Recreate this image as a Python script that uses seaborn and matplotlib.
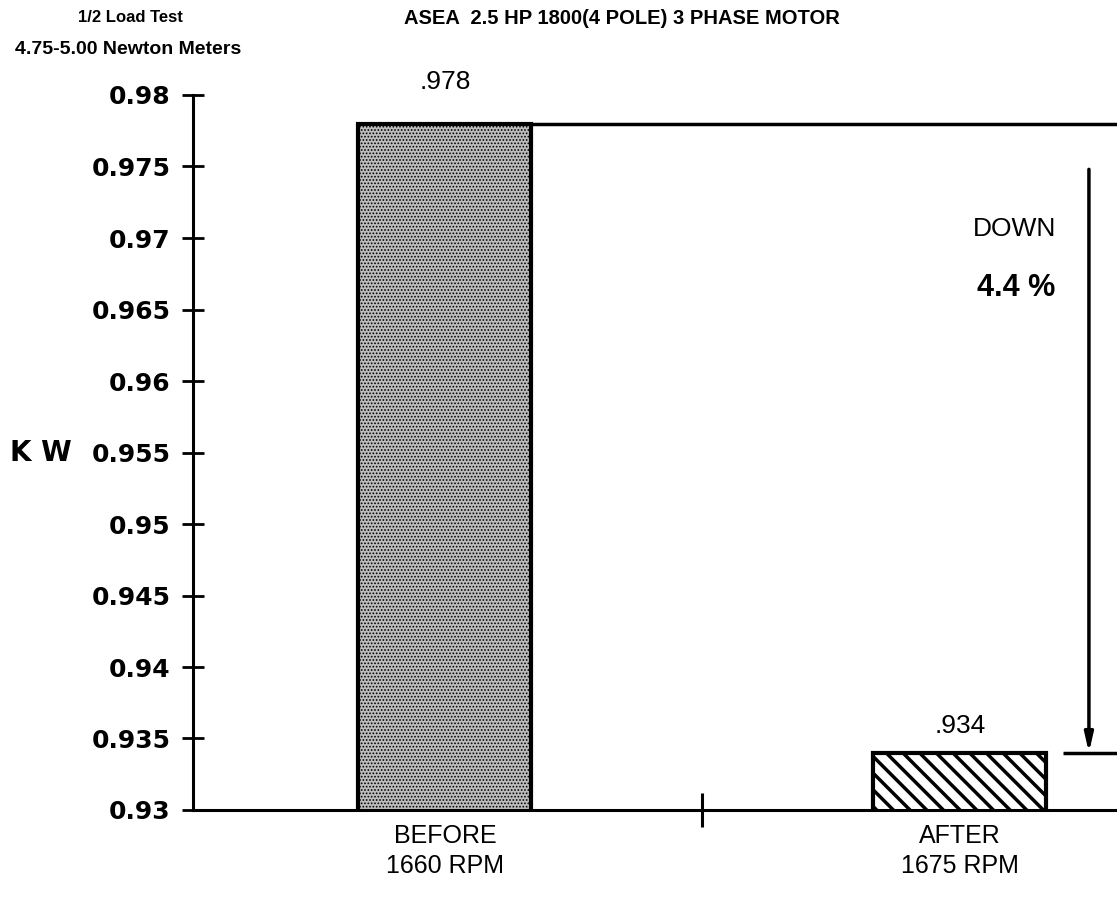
import matplotlib
matplotlib.use('Agg')
import matplotlib.pyplot as plt
import seaborn as sns

categories = ['BEFORE\n1660 RPM', 'AFTER\n1675 RPM']
kw_values = [0.978, 0.934]
value_labels = ['.978', '.934']
y_ticks = [0.93, 0.935, 0.94, 0.945, 0.95, 0.955, 0.96, 0.965, 0.97, 0.975, 0.98]
y_tick_labels = ['0.93', '0.935', '0.94', '0.945', '0.95', '0.955', '0.96', '0.965', '0.97', '0.975', '0.98']
change_label = 'DOWN'
change_pct = '4.4 %'

sns.set_style('ticks')
plt.rcParams['font.family'] = ['Liberation Sans', 'DejaVu Sans']
plt.rcParams['hatch.linewidth'] = 2.5
for key in ['text.color', 'axes.labelcolor', 'xtick.color', 'ytick.color', 'axes.edgecolor']:
    plt.rcParams[key] = 'black'

fig = plt.figure(figsize=(11.17, 8.97), dpi=100)
ax = fig.add_axes([193 / 1117, 1 - 810 / 897, 1 - 193 / 1117, (810 - 95) / 897])

bar_width = 0.336
sns.barplot(x=categories, y=kw_values, color='white', width=bar_width,
            edgecolor='black', linewidth=3, ax=ax)

# before = stipple grey, after = diagonal hatch
for patch, hatch, face, hlw in zip(ax.patches, ['.....', '\\\\'], ['#bdbdbd', 'white'], [0.8, 2.5]):
    patch.set_hatch(hatch)
    patch.set_facecolor(face)
    patch.set_edgecolor('black')
    if hasattr(patch, 'set_hatch_linewidth'):
        patch.set_hatch_linewidth(hlw)

x_right = 1.305
ax.set_xlim(-0.489, x_right)
ax.set_ylim(0.93, 0.98)
sns.despine(ax=ax)
for side in ['left', 'bottom']:
    ax.spines[side].set_linewidth(2.2)

ax.set_yticks(y_ticks)
ax.set_yticklabels(y_tick_labels, family='DejaVu Sans', fontweight='bold', fontsize=18)
ax.tick_params(axis='y', direction='inout', length=16, width=2, pad=8)
ax.tick_params(axis='x', which='major', length=0, labelsize=18, pad=10)
ax.set_xticks([0.5], minor=True)
ax.tick_params(axis='x', which='minor', direction='inout', length=24, width=2.2)
for lbl in ax.get_xticklabels():
    lbl.set_linespacing(1.3)

ax.set_ylabel('K W', rotation=0, ha='left', va='center', family='DejaVu Sans',
              fontweight='bold', fontsize=20)
ax.yaxis.set_label_coords(-183 / 924, 0.5)

# value labels over bars
for i, (v, txt, off) in enumerate(zip(kw_values, value_labels, [30, 19])):
    ax.annotate(txt, xy=(i, v), xytext=(0, off), textcoords='offset points',
                ha='center', va='center', fontsize=19)

# reference lines and the drop arrow
ax.hlines(kw_values[0], bar_width / 2, x_right, color='black', lw=2.5, clip_on=False)
ax.hlines(kw_values[1], 1.2, x_right, color='black', lw=2.5, clip_on=False)
ax.annotate('', xy=(1.2505, kw_values[1]), xytext=(1.2505, kw_values[0] - 0.0032),
            arrowprops=dict(arrowstyle='-|>,head_length=1.1,head_width=0.25',
                            lw=2.5, color='black', shrinkA=0, shrinkB=0))
ax.text(1.107, 0.9706, change_label, ha='center', va='center', fontsize=19)
ax.text(1.11, 0.9665, change_pct, ha='center', va='center', fontsize=22, fontweight='bold')

# header text
fig.text(130 / 1117, 1 - 18 / 897, '1/2 Load Test', ha='center', va='center',
         fontsize=12, fontweight='bold')
fig.text(128 / 1117, 1 - 50 / 897, '4.75-5.00 Newton Meters', ha='center', va='center',
         fontsize=14, fontweight='bold')
fig.text(622 / 1117, 1 - 18 / 897, 'ASEA  2.5 HP 1800(4 POLE) 3 PHASE MOTOR',
         ha='center', va='center', fontsize=14.5, fontweight='bold')

fig.savefig('out.png', dpi=100)
